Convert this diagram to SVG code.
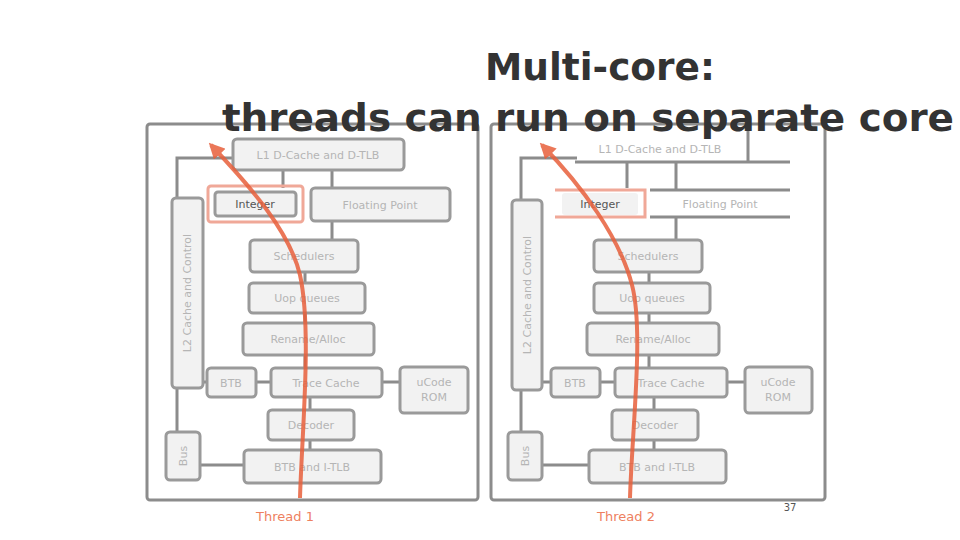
<svg xmlns="http://www.w3.org/2000/svg" width="960" height="540" viewBox="0 0 960 540">
<defs>
<style>
.core{fill:#fff;stroke:#8c8c8c;stroke-width:3}
.box{fill:#f2f2f2;stroke:#9a9a9a;stroke-width:3}
.lbl{font-family:"DejaVu Sans",sans-serif;font-size:11px;fill:#b5b5b5;text-anchor:middle}
.ln{fill:none;stroke:#8c8c8c;stroke-width:3}
.red{fill:none;stroke:#f0a898;stroke-width:3}
.thr{fill:none;stroke:#e8603c;stroke-width:4;opacity:0.85}
.tl{font-family:"DejaVu Sans",sans-serif;font-size:13px;fill:#ee8060;text-anchor:middle}
.title{font-family:"DejaVu Sans",sans-serif;font-size:37px;font-weight:600;fill:#333;text-anchor:middle}
</style>
<marker id="ah" viewBox="0 0 10 10" refX="8" refY="5" markerWidth="4" markerHeight="4" orient="auto">
<path d="M0,0 L10,5 L0,10 z" fill="#e8603c"/>
</marker>
</defs>

<g id="core1">
<rect class="core" x="147" y="124" width="331" height="376" rx="3"/>
</g>
<g id="core2">
<rect class="core" x="491" y="124" width="334" height="376" rx="3"/>
</g>

<g id="connectors">
<path class="ln" d="M177,198 V158 H233"/>
<path class="ln" d="M283,170 V188 M332,170 V188 M332,221 V240"/>
<path class="ln" d="M305,272 V283 M305,313 V323 M305,355 V368"/>
<path class="ln" d="M256,382 H271 M382,382 H400 M310,397 V410 M310,440 V450"/>
<path class="ln" d="M177,388 V432 M200,465 H244 M203,382 H207"/>
<path class="ln" d="M521,200 V158 H577"/>
<path class="ln" d="M575,162 H790 M650,190 H790 M650,217 H790 M748,126 V162"/>
<path class="ln" d="M627,162 V188 M676,162 V190 M676,217 V240"/>
<path class="ln" d="M649,272 V283 M649,313 V323 M649,355 V368"/>
<path class="ln" d="M600,382 H615 M727,382 H745 M654,397 V410 M654,440 V450"/>
<path class="ln" d="M521,390 V432 M542,465 H589 M542,382 H551"/>
</g>

<g id="n1-l1"><rect class="box" x="233" y="139" width="171" height="31" rx="4"/><text class="lbl" x="318" y="159">L1 D-Cache and D-TLB</text></g>
<g id="n1-int"><rect class="red" x="208" y="186" width="95" height="36" rx="3"/><rect class="box" x="215" y="192" width="81" height="24" rx="3"/><text class="lbl" x="255" y="208" style="fill:#555">Integer</text></g>
<g id="n1-fp"><rect class="box" x="311" y="188" width="139" height="33" rx="4"/><text class="lbl" x="380" y="209">Floating Point</text></g>
<g id="n1-sch"><rect class="box" x="250" y="240" width="108" height="32" rx="4"/><text class="lbl" x="304" y="260">Schedulers</text></g>
<g id="n1-uop"><rect class="box" x="249" y="283" width="116" height="30" rx="4"/><text class="lbl" x="307" y="302">Uop queues</text></g>
<g id="n1-ren"><rect class="box" x="243" y="323" width="131" height="32" rx="4"/><text class="lbl" x="308" y="343">Rename/Alloc</text></g>
<g id="n1-btb"><rect class="box" x="207" y="368" width="49" height="29" rx="4"/><text class="lbl" x="231" y="387">BTB</text></g>
<g id="n1-tc"><rect class="box" x="271" y="368" width="111" height="29" rx="4"/><text class="lbl" x="326" y="387">Trace Cache</text></g>
<g id="n1-rom"><rect class="box" x="400" y="367" width="68" height="46" rx="4"/><text class="lbl" x="434" y="386">uCode</text><text class="lbl" x="434" y="401">ROM</text></g>
<g id="n1-dec"><rect class="box" x="268" y="410" width="86" height="30" rx="4"/><text class="lbl" x="311" y="429">Decoder</text></g>
<g id="n1-itlb"><rect class="box" x="244" y="450" width="137" height="33" rx="4"/><text class="lbl" x="312" y="471">BTB and I-TLB</text></g>
<g id="n1-l2"><rect class="box" x="172" y="198" width="31" height="190" rx="4"/><text class="lbl" transform="translate(191,293) rotate(-90)">L2 Cache and Control</text></g>
<g id="n1-bus"><rect class="box" x="166" y="432" width="34" height="48" rx="4"/><text class="lbl" transform="translate(187,456) rotate(-90)">Bus</text></g>

<g id="n2-l1"><text class="lbl" x="660" y="153">L1 D-Cache and D-TLB</text></g>
<g id="n2-int"><path class="red" d="M555,190 H645 V217 H555"/><rect class="box" x="562" y="193" width="76" height="22" rx="3" style="stroke:none"/><text class="lbl" x="600" y="208" style="fill:#555">Integer</text></g>
<g id="n2-fp"><text class="lbl" x="720" y="208">Floating Point</text></g>
<g id="n2-sch"><rect class="box" x="594" y="240" width="108" height="32" rx="4"/><text class="lbl" x="648" y="260">Schedulers</text></g>
<g id="n2-uop"><rect class="box" x="594" y="283" width="116" height="30" rx="4"/><text class="lbl" x="652" y="302">Uop queues</text></g>
<g id="n2-ren"><rect class="box" x="587" y="323" width="132" height="32" rx="4"/><text class="lbl" x="653" y="343">Rename/Alloc</text></g>
<g id="n2-btb"><rect class="box" x="551" y="368" width="49" height="29" rx="4"/><text class="lbl" x="575" y="387">BTB</text></g>
<g id="n2-tc"><rect class="box" x="615" y="368" width="112" height="29" rx="4"/><text class="lbl" x="671" y="387">Trace Cache</text></g>
<g id="n2-rom"><rect class="box" x="745" y="367" width="67" height="46" rx="4"/><text class="lbl" x="778" y="386">uCode</text><text class="lbl" x="778" y="401">ROM</text></g>
<g id="n2-dec"><rect class="box" x="612" y="410" width="86" height="30" rx="4"/><text class="lbl" x="655" y="429">Decoder</text></g>
<g id="n2-itlb"><rect class="box" x="589" y="450" width="137" height="33" rx="4"/><text class="lbl" x="657" y="471">BTB and I-TLB</text></g>
<g id="n2-l2"><rect class="box" x="512" y="200" width="30" height="190" rx="4"/><text class="lbl" transform="translate(531,295) rotate(-90)">L2 Cache and Control</text></g>
<g id="n2-bus"><rect class="box" x="508" y="432" width="34" height="48" rx="4"/><text class="lbl" transform="translate(529,456) rotate(-90)">Bus</text></g>

<g id="threads">
<path class="thr" marker-end="url(#ah)" d="M300,498 C302,430 312,330 300,275 C290,232 250,186 211,145"/>
<path class="thr" marker-end="url(#ah)" d="M630,498 C632,430 644,330 632,285 C620,238 582,186 542,145"/>
<text class="tl" x="285" y="521">Thread 1</text>
<text class="tl" x="626" y="521">Thread 2</text>
</g>

<g id="title">
<text class="title" x="600" y="80" textLength="230" lengthAdjust="spacingAndGlyphs">Multi-core:</text>
<text class="title" x="588" y="131" textLength="732" lengthAdjust="spacingAndGlyphs">threads can run on separate core</text>
</g>
<text x="790" y="511" style="font-family:'DejaVu Sans',sans-serif;font-size:10px;fill:#555;text-anchor:middle">37</text>
</svg>
